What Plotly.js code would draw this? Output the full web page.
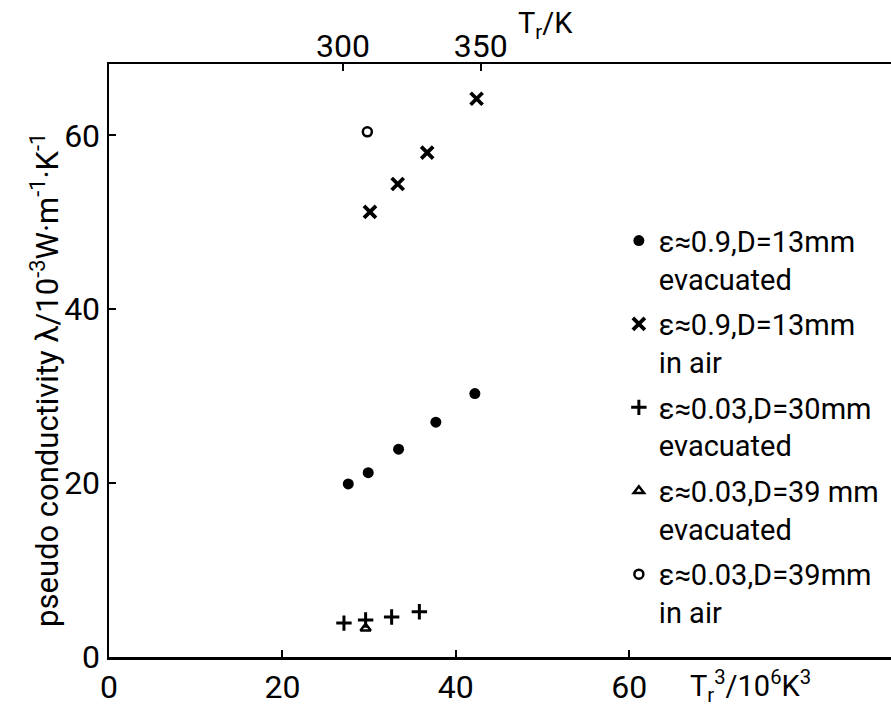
<!DOCTYPE html>
<html>
<head>
<meta charset="utf-8">
<script src="https://cdn.plot.ly/plotly-3.0.1.min.js"></script>
<style>html,body{margin:0;padding:0;background:#fff;}#chart{width:891px;height:707px;}</style>
</head>
<body>
<div id="chart"></div>
<script>
// Data (x = Tr^3 / 10^6 K^3, y = pseudo conductivity / 10^-3 W m^-1 K^-1)
const evac09_x = [27.6, 29.9, 33.4, 37.7, 42.2];
const evac09_y = [19.9, 21.2, 23.9, 27.0, 30.3];
const air09_x = [30.1, 33.3, 36.7, 42.4];
const air09_y = [51.2, 54.4, 58.0, 64.2];
const evac003_30_x = [27.1, 29.6, 32.6, 35.8];
const evac003_30_y = [3.9, 4.25, 4.6, 5.2];
const evac003_39_x = [29.6];
const evac003_39_y = [3.3];
const air003_39_x = [29.8];
const air003_39_y = [60.4];

const seriesNames = [
  "ε≈0.9,D=13mm<br>evacuated",
  "ε≈0.9,D=13mm<br>in air",
  "ε≈0.03,D=30mm<br>evacuated",
  "ε≈0.03,D=39 mm<br>evacuated",
  "ε≈0.03,D=39mm<br>in air"
];
const bottomTicks = [0, 20, 40, 60];
const leftTicks = [0, 20, 40, 60];
const topTickTemps = [300, 350]; // Tr / K
const topTickVals = topTickTemps.map(t => Math.pow(t, 3) / 1e6);

const FONT = 'Roboto, "Liberation Sans", sans-serif';
const black = '#000';

const traces = [
  {x: evac09_x, y: evac09_y, name: seriesNames[0], legendgroup: 'g0', mode: 'markers', type: 'scatter',
   marker: {symbol: 'circle', size: 11, color: black}},
  {x: air09_x, y: air09_y, name: seriesNames[1], legendgroup: 'g1', mode: 'markers', type: 'scatter',
   marker: {symbol: 'x-thin-open', size: 12, color: black, line: {color: black, width: 3.8}}},
  {x: evac003_30_x, y: evac003_30_y, name: seriesNames[2], legendgroup: 'g2', mode: 'markers', type: 'scatter',
   marker: {symbol: 'cross-thin-open', size: 11, color: black, line: {color: black, width: 3}}},
  {x: evac003_39_x, y: evac003_39_y, name: seriesNames[3], legendgroup: 'g3', mode: 'markers', type: 'scatter',
   marker: {symbol: 'triangle-up-open', size: 9, color: black, line: {color: black, width: 2.5}}},
  {x: air003_39_x, y: air003_39_y, name: seriesNames[4], legendgroup: 'g4', mode: 'markers', type: 'scatter',
   marker: {symbol: 'circle-open', size: 9, color: black, line: {color: black, width: 2.5}}},
  {x: topTickVals, y: [null, null], xaxis: 'x2', mode: 'markers', showlegend: false, hoverinfo: 'skip'}
];

const XMAX = 90.2, YMAX = 68.2;

const layout = {
  width: 891, height: 707,
  margin: {l: 109, r: 0, t: 64, b: 50, autoexpand: false},
  paper_bgcolor: '#fff', plot_bgcolor: '#fff',
  font: {family: FONT, color: black, size: 30},
  showlegend: true,
  legend: {
    x: 0.652, y: 0.745, xanchor: 'left', yanchor: 'top',
    bgcolor: 'rgba(0,0,0,0)', borderwidth: 0,
    font: {family: FONT, size: 29, color: black},
    valign: 'top', tracegroupgap: 5, itemwidth: 30
  },
  xaxis: {
    range: [0, XMAX], tickvals: bottomTicks, ticktext: bottomTicks.map(String),
    showgrid: false, zeroline: false, showline: true, linecolor: black, linewidth: 2.5,
    mirror: true, ticks: 'inside', ticklen: 7, tickwidth: 2, tickcolor: black,
    tickfont: {family: FONT, size: 32}
  },
  xaxis2: {
    overlaying: 'x', side: 'top', anchor: 'y', range: [0, XMAX],
    tickvals: topTickVals, ticktext: topTickTemps.map(String),
    showgrid: false, zeroline: false, showline: false,
    ticks: 'inside', ticklen: 7, tickwidth: 2, tickcolor: black,
    tickfont: {family: FONT, size: 32}
  },
  yaxis: {
    range: [0, YMAX], tickvals: leftTicks, ticktext: leftTicks.map(String),
    showgrid: false, zeroline: false, showline: true, linecolor: black, linewidth: 2.5,
    ticks: 'inside', ticklen: 7, tickwidth: 2, tickcolor: black,
    tickfont: {family: FONT, size: 32}
  },
  annotations: [
    {xref: 'paper', yref: 'paper', x: -0.082, y: 0.467, xanchor: 'center', yanchor: 'middle',
     textangle: -90, showarrow: false,
     text: 'pseudo conductivity λ/10<sup>-3</sup>W·m<sup>-1</sup>·K<sup>-1</sup>',
     font: {family: FONT, size: 31, color: black}},
    {xref: 'paper', yref: 'paper', x: 0.74, y: 0, yshift: -29, xanchor: 'left', yanchor: 'middle',
     text: 'T<sub>r</sub><sup>3</sup>/10<sup>6</sup>K<sup>3</sup>', showarrow: false,
     font: {family: FONT, size: 29, color: black}},
    {xref: 'paper', yref: 'paper', x: 0.52, y: 1, yshift: 39, xanchor: 'left', yanchor: 'middle',
     text: 'T<sub>r</sub>/K', showarrow: false,
     font: {family: FONT, size: 29, color: black}}
  ]
};

Plotly.newPlot('chart', traces, layout, {displayModeBar: false, staticPlot: true});
</script>
</body>
</html>
